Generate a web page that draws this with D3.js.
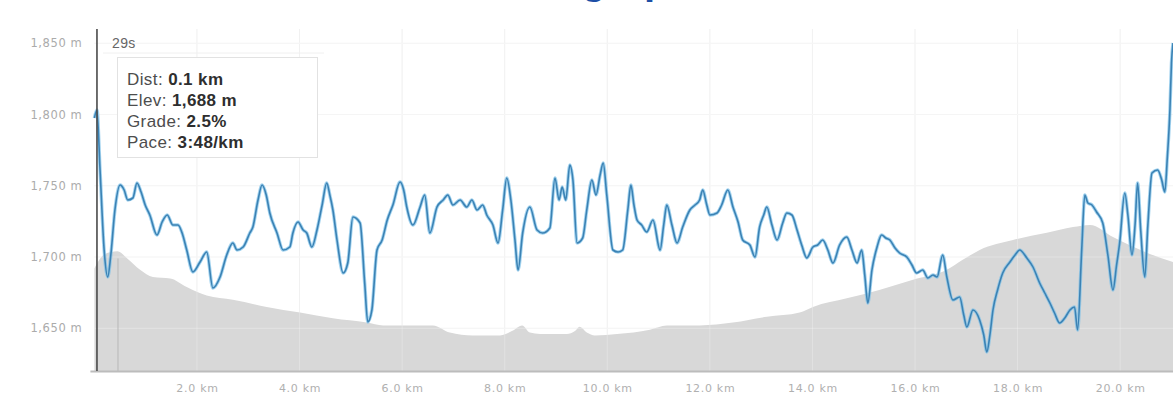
<!DOCTYPE html>
<html>
<head>
<meta charset="utf-8">
<script src="https://cdn.jsdelivr.net/npm/d3@7"></script>
<style>
  body { margin: 0; background: #fff; }
  svg { display: block; font-family: "Liberation Sans", Arial, sans-serif; }
</style>
</head>
<body>
<svg id="chart" width="1173" height="414"></svg>
<script>
// elevation profile (grey area)
const elevDist = [0.00, 0.20, 0.45, 0.64, 0.89, 1.14, 1.48, 1.80, 2.19, 2.70, 3.36, 4.01, 4.65, 5.31, 5.63,
  5.96, 6.60, 6.93, 7.38, 7.91, 8.14, 8.34, 8.49, 8.69, 9.21, 9.37, 9.46, 9.60, 9.76, 10.19, 10.83, 11.16,
  11.80, 12.45, 13.11, 13.75, 14.01, 14.67, 15.32, 15.96, 16.62, 16.93, 17.26, 17.91, 18.57, 19.08, 19.41,
  19.86, 20.52, 21.03];
const elevM = [1692, 1702, 1704, 1699, 1691, 1686, 1685, 1679, 1673, 1670, 1665, 1661, 1657, 1654, 1652,
  1652, 1652, 1647, 1645, 1645, 1648, 1652, 1647, 1646, 1646, 1648, 1651, 1647, 1645, 1646, 1649, 1652,
  1652, 1654, 1658, 1661, 1665, 1671, 1677, 1684, 1691, 1698, 1705, 1712, 1717, 1721, 1722.5,
  1714, 1703, 1696.5];

// pace (blue line), seconds per km
const paceDist = [0.00, 0.05, 0.11, 0.19, 0.26, 0.32, 0.40, 0.50, 0.58, 0.65, 0.75, 0.83, 0.91, 0.99, 1.08,
  1.22, 1.32, 1.42, 1.53, 1.63, 1.71, 1.80, 1.92, 2.06, 2.19, 2.31, 2.45, 2.58, 2.70, 2.78, 2.90, 3.03, 3.09,
  3.19, 3.27, 3.35, 3.42, 3.56, 3.68, 3.81, 3.87, 3.97, 4.07, 4.14, 4.24, 4.34, 4.44, 4.53, 4.59, 4.65, 4.73,
  4.85, 4.94, 5.04, 5.18, 5.27, 5.33, 5.41, 5.51, 5.61, 5.71, 5.82, 5.96, 6.03, 6.09, 6.21, 6.35, 6.44, 6.54,
  6.68, 6.80, 6.89, 6.99, 7.13, 7.26, 7.36, 7.46, 7.57, 7.65, 7.77, 7.87, 7.96, 8.04, 8.12, 8.20, 8.26, 8.35,
  8.49, 8.63, 8.74, 8.88, 8.98, 9.06, 9.12, 9.19, 9.27, 9.33, 9.41, 9.52, 9.60, 9.70, 9.78, 9.86, 9.92, 9.99,
  10.11, 10.21, 10.30, 10.40, 10.46, 10.52, 10.58, 10.67, 10.77, 10.89, 11.03, 11.10, 11.16, 11.26, 11.36,
  11.47, 11.61, 11.71, 11.80, 11.86, 11.94, 12.00, 12.14, 12.23, 12.35, 12.45, 12.55, 12.64, 12.78, 12.88,
  12.97, 13.05, 13.11, 13.21, 13.31, 13.42, 13.50, 13.60, 13.70, 13.79, 13.89, 14.01, 14.10, 14.20, 14.30,
  14.40, 14.53, 14.67, 14.77, 14.87, 14.96, 15.02, 15.08, 15.16, 15.26, 15.35, 15.43, 15.51, 15.61, 15.70,
  15.84, 15.94, 16.03, 16.15, 16.25, 16.35, 16.43, 16.54, 16.62, 16.74, 16.87, 16.95, 17.01, 17.13, 17.26,
  17.34, 17.40, 17.46, 17.52, 17.61, 17.71, 17.85, 17.95, 18.04, 18.18, 18.30, 18.43, 18.53, 18.63, 18.72,
  18.82, 18.92, 19.02, 19.11, 19.17, 19.25, 19.31, 19.37, 19.45, 19.54, 19.66, 19.76, 19.86, 19.93, 19.99,
  20.09, 20.15, 20.23, 20.29, 20.34, 20.40, 20.48, 20.54, 20.62, 20.73, 20.81, 20.87, 20.92, 20.97, 21.00, 21.03];
const paceSec = [269, 261, 321, 401, 428, 406, 361, 336, 341, 351, 349, 334, 343, 356, 366,
  386, 373, 366, 376, 376, 384, 401, 423, 413, 403, 439, 428, 406, 394, 401, 398, 384, 378,
  351, 336, 346, 364, 384, 401, 398, 384, 373, 381, 384, 398, 381, 356, 334, 346, 361, 391,
  424, 414, 368, 374, 434, 473, 461, 401, 391, 371, 356, 333, 341, 358, 376, 358, 346, 384,
  358, 351, 346, 356, 351, 358, 351, 361, 356, 366, 376, 394, 361, 329, 351, 391, 421, 384,
  358, 381, 384, 379, 329, 351, 338, 351, 316, 331, 394, 389, 361, 331, 346, 326, 314, 346,
  401, 403, 401, 361, 336, 356, 371, 376, 383, 371, 401, 376, 356, 376, 394,
  378, 361, 356, 351, 341, 356, 366, 364, 356, 341, 358, 373, 391, 396, 408,
  378, 366, 358, 376, 391, 374, 364, 366, 381, 396, 409, 398, 396, 391, 401,
  414, 396, 388, 401, 414, 401, 426, 454, 421, 398, 386, 389, 391, 399, 404,
  408, 416, 424, 421, 429, 426, 428, 406, 428, 451, 448, 466, 478, 461, 471,
  486, 503, 486, 461, 441, 424, 413, 406, 401, 409, 418, 434, 444, 454, 464,
  474, 469, 461, 458, 481, 401, 346, 354, 356, 363, 374, 406, 441, 416, 394,
  344, 366, 406, 376, 334, 381, 428, 376, 324, 321, 331, 343, 308, 261, 214, 194];

const yTicks = [1650, 1700, 1750, 1800, 1850];
const xTicks = [2, 4, 6, 8, 10, 12, 14, 16, 18, 20];
const lapMarks = [0.46];
const cursorKm = 0.05;
const tipTime = "29s";
const tipLabels = ["Dist:", "Elev:", "Grade:", "Pace:"];
const tipValues = ["0.1 km", "1,688 m", "2.5%", "3:48/km"];
const titleText = "Elevation graph";

const svg = d3.select("#chart");
const plotTop = 29, plotBottom = 371, plotLeft = 94.4, plotRight = 1173;

const x = d3.scaleLinear().domain([0, 21.03]).range([plotLeft, plotRight]);
const yElev = d3.scaleLinear().domain([1620, 1860]).range([plotBottom, plotTop]);
const yPace = d3.scaleLinear().domain([180, 522]).range([plotTop, plotBottom]);

// title, mostly scrolled off the top of the page
const title = svg.append("text")
  .attr("y", -6)
  .style("font-size", "40px")
  .style("font-weight", "bold")
  .style("fill", "#1d4fa6")
  .text(titleText);
const gIdx = titleText.indexOf("g");
const gOff = title.node().getSubStringLength(0, gIdx) + title.node().getSubStringLength(gIdx, 1) / 2;
title.attr("x", 594 - gOff);

// grid
svg.append("g").selectAll("line").data(xTicks).join("line")
  .attr("x1", d => x(d)).attr("x2", d => x(d))
  .attr("y1", plotTop).attr("y2", plotBottom)
  .attr("stroke", "#ededed");
svg.append("g").selectAll("line").data(yTicks).join("line")
  .attr("x1", plotLeft).attr("x2", plotRight)
  .attr("y1", d => yElev(d)).attr("y2", d => yElev(d))
  .attr("stroke", "#f1f1f1");

// elevation area
const elev = elevDist.map((d, i) => ({ km: d, m: elevM[i] }));
svg.append("path")
  .datum(elev)
  .attr("fill", "#d8d8d8")
  .attr("d", d3.area().x(d => x(d.km)).y0(plotBottom).y1(d => yElev(d.m)).curve(d3.curveMonotoneX));

// grid showing through the area, a bit lighter
svg.append("g").selectAll("line").data(xTicks).join("line")
  .attr("x1", d => x(d)).attr("x2", d => x(d))
  .attr("y1", plotTop).attr("y2", plotBottom)
  .attr("stroke", "#fff").attr("stroke-opacity", 0.25);
svg.append("g").selectAll("line").data(yTicks).join("line")
  .attr("x1", plotLeft).attr("x2", plotRight)
  .attr("y1", d => yElev(d)).attr("y2", d => yElev(d))
  .attr("stroke", "#fff").attr("stroke-opacity", 0.3);

// lap marker
const elevAt = km => elevM[d3.bisectLeft(elevDist, km)];
svg.append("g").selectAll("line").data(lapMarks).join("line")
  .attr("x1", d => x(d)).attr("x2", d => x(d))
  .attr("y1", d => yElev(elevAt(d))).attr("y2", plotBottom)
  .attr("stroke", "#b8b8b8");

// baseline
svg.append("line")
  .attr("x1", plotLeft - 4).attr("x2", plotRight)
  .attr("y1", plotBottom + 0.5).attr("y2", plotBottom + 0.5)
  .attr("stroke", "#bcbcbc").attr("stroke-width", 2);

// pace line
const pace = paceDist.map((d, i) => ({ km: d, s: paceSec[i] }));
const paceLine = d3.line().x(d => x(d.km)).y(d => yPace(d.s)).curve(d3.curveMonotoneX);
svg.append("path").datum(pace)
  .attr("fill", "none").attr("stroke", "#7cc0e8").attr("stroke-opacity", 0.7)
  .attr("stroke-width", 3.4).attr("stroke-linejoin", "round")
  .attr("d", paceLine);
svg.append("path").datum(pace)
  .attr("fill", "none").attr("stroke", "#3b82b4")
  .attr("stroke-width", 1.6).attr("stroke-linejoin", "round")
  .attr("d", paceLine);

// axes
const yAxis = d3.axisLeft(yElev).tickValues(yTicks)
  .tickFormat(d => d3.format(",")(d) + " m").tickSize(0).tickPadding(12);
const gy = svg.append("g").attr("transform", `translate(${plotLeft},0)`).call(yAxis);
gy.select(".domain").remove();
gy.selectAll("text").style("font-size", "11.5px").style("fill", "#ababab")
  .style("font-family", "'DejaVu Sans', sans-serif").style("letter-spacing", "0.6px");

const xAxis = d3.axisBottom(x).tickValues(xTicks)
  .tickFormat(d => d.toFixed(1) + " km").tickSize(0).tickPadding(13);
const gx = svg.append("g").attr("transform", `translate(0,${plotBottom})`).call(xAxis);
gx.select(".domain").remove();
gx.selectAll("text").style("font-size", "11px").style("fill", "#b0b0b0")
  .style("font-family", "'DejaVu Sans', sans-serif").style("letter-spacing", "0.7px");

// hover cursor and tooltip
svg.append("line")
  .attr("x1", x(cursorKm)).attr("x2", x(cursorKm))
  .attr("y1", plotTop).attr("y2", plotBottom)
  .attr("stroke", "#4a4a4a").attr("stroke-width", 1.6);

svg.append("text").attr("x", 112).attr("y", 48)
  .style("font-size", "14px").style("fill", "#666").style("letter-spacing", "0.4px").text(tipTime);
svg.append("line").attr("x1", 103).attr("x2", 324).attr("y1", 53).attr("y2", 53)
  .attr("stroke", "#f0f0f0");
svg.append("rect").attr("x", 117.5).attr("y", 57.5).attr("width", 200).attr("height", 100)
  .attr("fill", "#fff").attr("stroke", "#e2e2e2");

const tip = svg.append("g").selectAll("text").data(tipLabels).join("text")
  .attr("x", 127).attr("y", (d, i) => 85 + i * 21)
  .style("font-size", "17px").style("fill", "#4d4d4d").style("letter-spacing", "0.4px");
tip.append("tspan").text(d => d + " ");
tip.append("tspan").style("font-weight", "bold").style("fill", "#2e2e2e")
  .text((d, i) => tipValues[i]);
</script>
</body>
</html>
